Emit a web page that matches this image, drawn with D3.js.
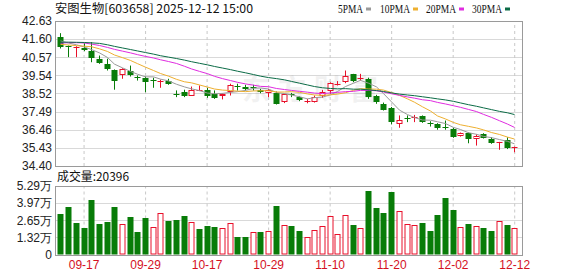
<!DOCTYPE html>
<html><head><meta charset="utf-8">
<script src="https://cdn.jsdelivr.net/npm/d3@7/dist/d3.min.js"></script>
<style>
html,body{margin:0;padding:0;background:#fff;}
svg{display:block;}
text{font-family:"Liberation Sans",Arial,sans-serif;}
</style>
</head><body>
<svg id="c" width="578" height="276"></svg>
<script>
const dates = ["09-12","09-15","09-16","09-17","09-18","09-19","09-22","09-23","09-24","09-25","09-26","09-29","09-30",
"10-09","10-10","10-13","10-14","10-15","10-16","10-17","10-20","10-21","10-22","10-23","10-24","10-27","10-28","10-29",
"10-30","10-31","11-03","11-04","11-05","11-06","11-07","11-10","11-11","11-12","11-13","11-14","11-17","11-18","11-19","11-20",
"11-21","11-24","11-25","11-26","11-27","11-28","12-01","12-02","12-03","12-04","12-05","12-08","12-09","12-10","12-11","12-12"];
const open  = [41.75,41.20,41.13,41.08,40.92,40.45,40.20,39.86,39.54,39.78,39.43,39.38,39.27,39.20,39.25,38.50,38.59,38.40,38.70,38.69,
38.50,38.35,38.59,38.93,38.91,38.87,38.72,38.53,38.53,38.02,38.46,38.30,38.08,38.02,38.35,38.65,39.05,39.16,39.60,39.38,
39.35,38.40,37.93,37.70,36.80,37.10,37.16,37.23,36.85,36.77,36.62,36.51,36.13,36.26,35.94,36.23,35.94,35.73,35.90,35.46];
const high  = [41.94,41.24,41.20,41.37,41.43,40.67,40.49,39.88,39.95,40.10,39.54,39.48,39.41,39.30,39.35,38.69,38.73,38.91,38.97,38.84,
38.69,38.52,39.07,39.07,39.01,39.01,38.78,38.78,38.63,38.50,38.55,38.35,38.21,38.40,38.72,39.15,39.22,39.82,39.63,39.63,
39.41,38.44,38.00,37.75,37.27,37.27,37.30,37.27,36.94,36.83,36.98,36.57,36.30,36.30,36.20,36.26,36.03,35.77,36.03,35.50];
const low   = [41.07,40.58,40.58,40.92,40.29,40.20,39.82,38.73,39.35,39.48,39.25,38.59,38.84,38.84,39.01,38.31,38.31,38.40,38.65,38.27,
38.21,38.18,38.40,38.68,38.68,38.68,38.53,38.31,37.89,37.97,38.31,38.08,37.96,38.00,38.27,38.50,38.97,39.10,39.16,39.25,
38.21,37.93,37.55,36.76,36.57,36.89,36.89,36.85,36.64,36.46,36.46,36.00,36.07,35.69,35.56,35.96,35.66,35.32,35.36,35.18];
const close = [41.18,41.18,41.16,40.98,40.54,40.24,39.88,39.25,39.92,39.58,39.40,39.16,39.25,39.25,39.07,38.47,38.40,38.72,38.72,38.40,
38.27,38.50,39.01,38.90,38.78,38.85,38.59,38.72,37.93,38.46,38.44,38.12,38.10,38.30,38.59,39.10,39.07,39.48,39.25,39.40,
38.30,38.02,37.60,36.89,37.02,37.08,37.18,36.89,36.83,36.57,36.60,36.07,36.28,35.94,36.13,36.00,35.69,35.75,35.41,35.47];
// volume in 万
const volume = [3.13,3.64,2.46,2.02,4.21,2.36,2.51,3.64,2.36,2.87,1.74,2.80,2.10,3.18,2.59,2.64,2.95,2.49,1.95,2.20,
2.12,2.02,2.43,1.35,1.35,1.74,1.74,1.81,3.75,2.28,2.20,1.81,1.33,1.87,2.18,2.97,1.58,3.05,2.28,2.02,
4.90,3.57,3.20,4.85,3.36,2.36,2.28,2.46,1.84,3.05,4.39,3.44,2.10,2.36,2.20,2.02,1.81,2.59,2.28,2.04];
const volumeUp = [0,0,0,0,0,0,0,0,1,0,0,0,1,1,0,0,0,1,0,0,
0,1,1,0,0,1,0,1,0,1,0,0,1,1,1,1,1,1,0,1,
0,0,0,0,1,1,1,0,0,0,0,0,1,0,1,0,0,1,0,1];
const ma5 = [41.50,41.38,41.28,41.15,41.01,40.82,40.56,40.18,39.97,39.77,39.61,39.46,39.46,39.33,39.23,39.04,38.89,38.78,38.68,38.54,
38.50,38.52,38.58,38.62,38.69,38.81,38.83,38.77,38.57,38.51,38.43,38.33,38.21,38.28,38.31,38.44,38.63,38.91,39.10,39.26,
39.10,38.89,38.51,38.04,37.57,37.32,37.15,37.01,37.00,36.91,36.81,36.59,36.47,36.29,36.20,36.08,36.01,35.90,35.80,35.66];
const ma10 = [41.30,41.27,41.23,41.20,41.17,41.05,40.90,40.70,40.55,40.39,40.21,40.01,39.82,39.65,39.50,39.32,39.18,39.12,39.00,38.88,
38.77,38.71,38.68,38.65,38.62,38.66,38.67,38.67,38.60,38.60,38.62,38.58,38.49,38.43,38.41,38.44,38.48,38.56,38.69,38.79,
38.77,38.76,38.71,38.57,38.41,38.21,38.02,37.76,37.52,37.24,37.07,36.87,36.74,36.65,36.56,36.45,36.30,36.19,36.04,35.93];
const ma20 = [41.37,41.40,41.40,41.38,41.32,41.24,41.13,41.02,40.92,40.82,40.72,40.62,40.53,40.43,40.33,40.22,40.06,39.91,39.77,39.64,
39.49,39.36,39.25,39.15,39.06,38.99,38.92,38.90,38.80,38.74,38.69,38.64,38.59,38.54,38.51,38.55,38.58,38.62,38.64,38.69,
38.69,38.67,38.60,38.50,38.41,38.32,38.25,38.16,38.11,38.01,37.92,37.82,37.73,37.61,37.49,37.33,37.16,36.97,36.78,36.59];
const ma30 = [41.43,41.43,41.42,41.41,41.39,41.36,41.28,41.19,41.10,41.01,40.93,40.84,40.75,40.66,40.58,40.50,40.41,40.32,40.23,40.14,
40.05,39.96,39.87,39.78,39.69,39.59,39.50,39.42,39.36,39.29,39.20,39.10,39.00,38.91,38.84,38.80,38.78,38.79,38.76,38.76,
38.72,38.68,38.63,38.55,38.48,38.43,38.39,38.33,38.27,38.21,38.15,38.07,37.98,37.88,37.79,37.70,37.60,37.50,37.42,37.32];
const priceTicks = [42.63,41.60,40.57,39.54,38.52,37.49,36.46,35.43,34.40];
const volumeTicks = [5.29,3.97,2.65,1.32,0];
const dateTicks = ["09-17","09-29","10-17","10-29","11-10","11-20","12-02","12-12"];
const maNames = ["5PMA","10PMA","20PMA","30PMA"];
const titleText = "安图生物[603658] 2025-12-12 15:00";
const volTitle = "成交量:20396";

const svg = d3.select("#c");
const L = 55, R = 523, pTop = 21, pBot = 166, vTop = 186, vBot = 254.5;
const RED = "#e8102a", GREEN = "#087c08";
const maColors = ["#9a9a9a","#eeb030","#e02ce0","#0b6b46"];

const x = d3.scaleBand().domain(dates).range([56.65, 56.65 + dates.length * 7.69]).paddingInner(0);
const cx = d => Math.round(x(d) + x.bandwidth() / 2) + 0.5;
const yP = d3.scaleLinear().domain([34.40, 42.63]).range([pBot, pTop]);
const yV = d3.scaleLinear().domain([0, 5.29]).range([vBot, vTop]);

// horizontal grids + labels
function hAxis(scale, ticks, fmt) {
  const g = svg.append("g").attr("transform", `translate(${L},0)`)
    .call(d3.axisLeft(scale).tickValues(ticks).tickSize(-(R - L)).tickPadding(3).tickFormat(fmt));
  g.select(".domain").remove();
  g.selectAll(".tick line").attr("stroke", "#d9d9d9").attr("shape-rendering", "crispEdges");
  g.selectAll(".tick text").attr("fill", "#222").style("font-size", "12px")
    .style("font-family", "'Liberation Sans',Arial,sans-serif");
  return g;
}
hAxis(yP, priceTicks, d3.format(".2f"));
hAxis(yV, volumeTicks, d => d === 0 ? "0" : d3.format(".2f")(d) + "万");

// vertical dashed grids
function vGrid(y0, y1) {
  const g = svg.append("g").attr("transform", `translate(0,${y1})`)
    .call(d3.axisBottom(x).tickValues(dateTicks).tickSize(-(y1 - y0)).tickFormat(""));
  g.select(".domain").remove();
  g.selectAll(".tick line").attr("stroke", "#c8c8c8").attr("stroke-dasharray", "3,3")
    .attr("transform", "translate(0.5,0)");
}
vGrid(pTop, pBot);
vGrid(vTop, vBot);

// watermark
svg.append("text").attr("x", 242).attr("y", 100).text("东方财富")
  .style("font-family", "'Noto Sans CJK SC',sans-serif").style("font-size", "28px").style("font-weight", "bold")
  .style("letter-spacing", "8px").attr("fill", "#000").attr("opacity", 0.05);

// frames
[[pTop, pBot], [vTop, vBot]].forEach(([a, b]) => {
  svg.append("rect").attr("x", L + 0.5).attr("y", Math.round(a) + 0.5).attr("width", R - L - 1)
    .attr("height", Math.round(b) - Math.round(a)).attr("fill", "none").attr("stroke", "#9a9a9a");
});

// candles
const idx = d3.range(dates.length);
const cg = svg.append("g");
idx.forEach(i => {
  const up = close[i] >= open[i];
  const col = up ? RED : GREEN;
  const xc = cx(dates[i]);
  const top = yP(Math.max(open[i], close[i])), bot = yP(Math.min(open[i], close[i]));
  cg.append("line").attr("x1", xc).attr("x2", xc).attr("y1", yP(high[i])).attr("y2", yP(low[i]))
    .attr("stroke", col).attr("stroke-width", 1);
  const h = Math.max(1, Math.round(bot) - Math.round(top));
  if (up) {
    cg.append("rect").attr("x", xc - 2.5).attr("y", Math.round(top) + 0.5).attr("width", 5).attr("height", Math.max(h - 1, 0.01))
      .attr("fill", "#fff").attr("stroke", col).attr("stroke-width", 1);
  } else {
    cg.append("rect").attr("x", xc - 3).attr("y", Math.round(top)).attr("width", 6).attr("height", h)
      .attr("fill", col);
  }
});

// MA lines
[ma5, ma10, ma20, ma30].forEach((arr, k) => {
  svg.append("path").datum(idx)
    .attr("d", d3.line().x(i => cx(dates[i])).y(i => yP(arr[i])))
    .attr("fill", "none").attr("stroke", maColors[k]).attr("stroke-width", 1);
});

// volume bars
idx.forEach(i => {
  const xc = cx(dates[i]);
  const t = Math.round(yV(volume[i]));
  if (volumeUp[i]) {
    svg.append("rect").attr("x", xc - 2.5).attr("y", t + 0.5).attr("width", 5).attr("height", vBot - t - 1)
      .attr("fill", "#fff").attr("stroke", RED).attr("stroke-width", 1);
  } else {
    svg.append("rect").attr("x", xc - 3).attr("y", t).attr("width", 6).attr("height", vBot - t)
      .attr("fill", GREEN);
  }
});
// redraw bottom frame line over bars
svg.append("line").attr("x1", L).attr("x2", R).attr("y1", Math.round(vBot) + 0.5).attr("y2", Math.round(vBot) + 0.5)
  .attr("stroke", "#9a9a9a");

// date labels
const xa = svg.append("g").attr("transform", `translate(0.5,${vBot})`)
  .call(d3.axisBottom(x).tickValues(dateTicks).tickSize(0).tickPadding(6));
xa.select(".domain").remove();
xa.selectAll(".tick text").attr("fill", "#d4101e").style("font-size", "12px")
  .style("font-family", "'Liberation Sans',Arial,sans-serif");

// title
svg.append("text").attr("x", 55).attr("y", 13).text(titleText)
  .attr("textLength", 198).attr("lengthAdjust", "spacingAndGlyphs")
  .style("font-family", "'Noto Sans CJK SC',sans-serif").style("font-size", "12px").attr("fill", "#111");
svg.append("text").attr("x", 57).attr("y", 181).text(volTitle)
  .attr("textLength", 72).attr("lengthAdjust", "spacingAndGlyphs")
  .style("font-family", "'Noto Sans CJK SC',sans-serif").style("font-size", "12px").attr("fill", "#111");

// legend
const legX = [338, 380, 426, 472], legW = [25, 30, 30, 30];
maNames.forEach((n, k) => {
  svg.append("text").attr("x", legX[k]).attr("y", 13).text(n)
    .attr("textLength", legW[k]).attr("lengthAdjust", "spacingAndGlyphs")
    .style("font-family", "'Liberation Serif',serif").style("font-size", "12px").attr("fill", "#111");
  svg.append("rect").attr("x", legX[k] + legW[k] + 3).attr("y", 7.5).attr("width", 5).attr("height", 3)
    .attr("fill", maColors[k]);
});
</script>
</body></html>
